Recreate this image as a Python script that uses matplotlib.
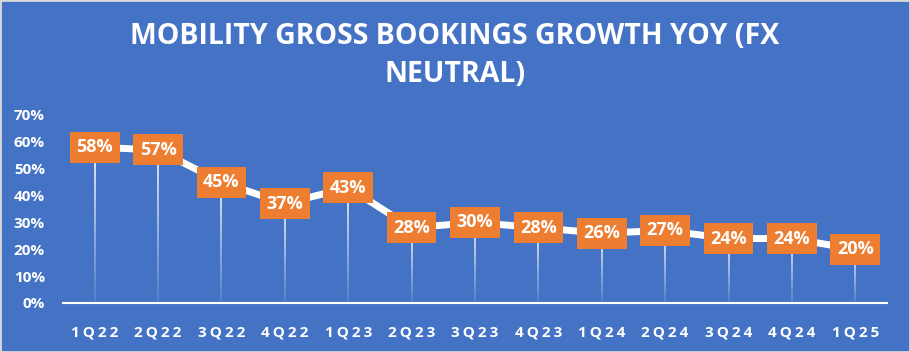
import numpy as np
import matplotlib
matplotlib.use("Agg")
import matplotlib.pyplot as plt
from matplotlib.collections import LineCollection
from matplotlib.ticker import PercentFormatter
from matplotlib.patches import Rectangle

quarters = ["1Q22", "2Q22", "3Q22", "4Q22", "1Q23", "2Q23", "3Q23", "4Q23",
            "1Q24", "2Q24", "3Q24", "4Q24", "1Q25"]
growth = [58, 57, 45, 37, 43, 28, 30, 28, 26, 27, 24, 24, 20]

BG = "#4472C4"
ORANGE = "#ED7D31"

plt.rcParams["font.family"] = ["Open Sans", "DejaVu Sans"]

fig = plt.figure(figsize=(9.1, 3.52), dpi=100, facecolor=BG)
ax = fig.add_axes([63 / 910, 1 - 303 / 352, (887 - 63) / 910, (303 - 115) / 352])
ax.set_facecolor(BG)

x = np.arange(len(quarters))
vals = np.array(growth) / 100.0

# drop lines fading towards the axis
segs, cols = [], []
n = 30
for xi, v in zip(x, vals):
    ys = np.linspace(0, v, n + 1)
    for k in range(n):
        segs.append([(xi, ys[k]), (xi, ys[k + 1])])
        a = 0.1 + 0.85 * (k / n)
        cols.append((1, 1, 1, a))
ax.add_collection(LineCollection(segs, colors=cols, linewidths=1.3, zorder=1))

ax.plot(x, vals, color="white", linewidth=5, solid_capstyle="butt", zorder=2)

for xi, v in zip(x, vals):
    ax.text(xi, v, "{:d}%".format(int(round(v * 100))), ha="center", va="center",
            color="white", fontsize=13, fontweight="bold", zorder=3,
            bbox=dict(boxstyle="square,pad=0.36", facecolor=ORANGE, edgecolor="none"))

ax.set_xlim(-0.5, len(quarters) - 0.5)
ax.set_ylim(0, 0.7)
ax.set_yticks(np.arange(0, 0.71, 0.1))
ax.yaxis.set_major_formatter(PercentFormatter(1.0, decimals=0))
ax.set_xticks(x)
ax.set_xticklabels(["\u2009".join(q) for q in quarters])

for s in ["top", "right", "left"]:
    ax.spines[s].set_visible(False)
ax.spines["bottom"].set_color("white")
ax.spines["bottom"].set_linewidth(1.5)
ax.tick_params(axis="both", length=0, colors="white", labelsize=11)
ax.tick_params(axis="x", pad=16)
ax.tick_params(axis="y", pad=13)
for lab in ax.get_xticklabels() + ax.get_yticklabels():
    lab.set_fontweight("bold")

fig.text(0.5, 1 - 36 / 352, "MOBILITY GROSS BOOKINGS GROWTH YOY (FX", ha="center",
         va="center", color="white", fontsize=20.5, fontweight="bold")
fig.text(0.5, 1 - 74 / 352, "NEUTRAL)", ha="center", va="center", color="white",
         fontsize=20.5, fontweight="bold")

fig.patches.append(Rectangle((0, 0), 1, 1, transform=fig.transFigure, fill=False,
                             edgecolor="#d9d9d9", linewidth=2))

fig.savefig("out.png", dpi=100, facecolor=BG)
